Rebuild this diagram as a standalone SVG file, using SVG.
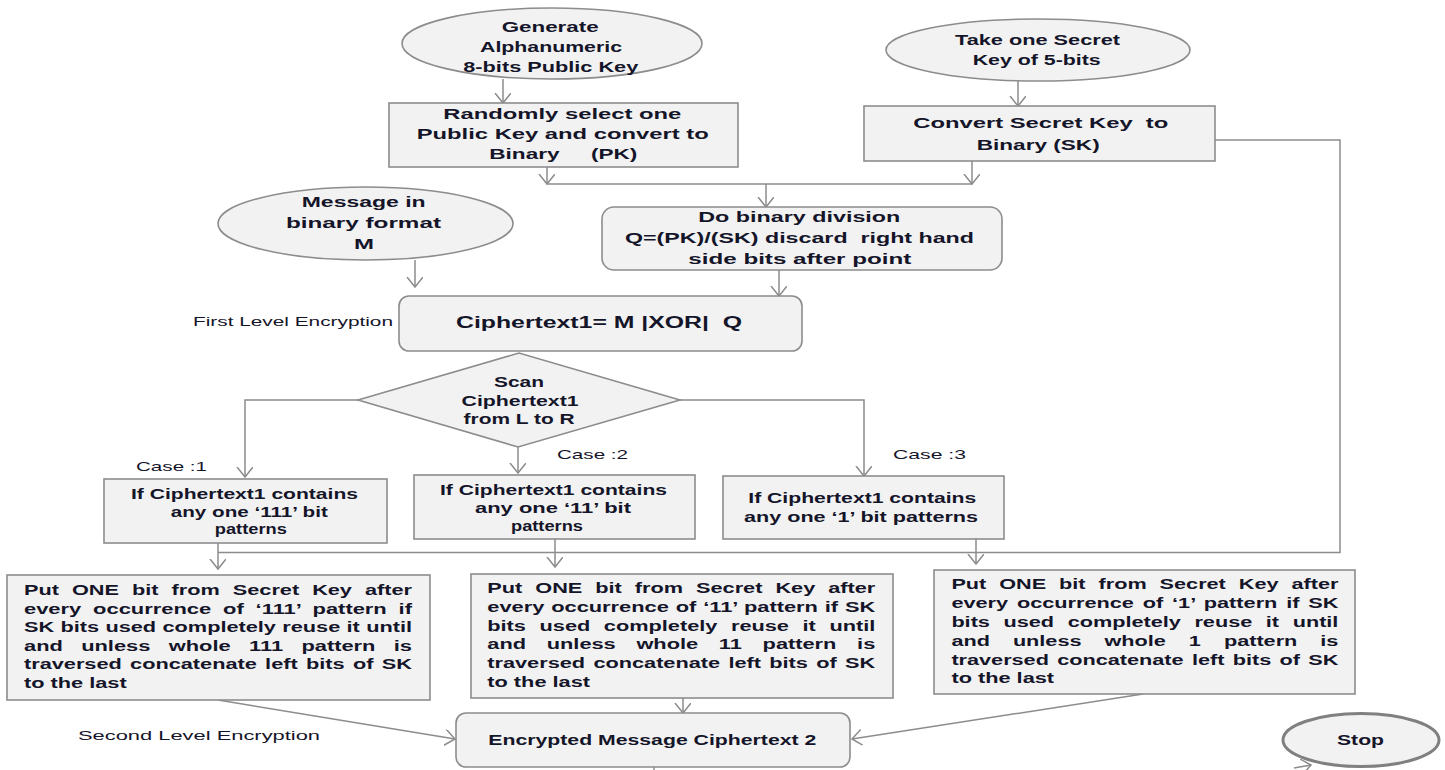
<svg xmlns="http://www.w3.org/2000/svg" width="1445" height="770" viewBox="0 0 1445 770">
<style>
.n{fill:#f2f2f2;stroke:#8c8c8c;stroke-width:1.6}
.c{fill:none;stroke:#8c8c8c;stroke-width:1.5}
.a{marker-end:url(#ah)}
text{font-family:"Liberation Sans",Arial,sans-serif;font-weight:bold;font-size:15px;fill:#15152a}
.p{font-size:14px}
.l{font-weight:normal;font-size:13px}
</style>
<defs>
<marker id="ah" markerUnits="userSpaceOnUse" markerWidth="12" markerHeight="18" refX="10" refY="8" orient="auto">
<path d="M0,0 L10,8 L0,16" fill="none" stroke="#8c8c8c" stroke-width="1.5"/>
</marker>
</defs>
<rect width="1445" height="770" fill="#ffffff"/>
<g id="connectors">
<path class="c a" d="M503,79 V103"/>
<path class="c a" d="M1018,81 V106"/>
<path class="c a" d="M547,167 V184"/>
<path class="c a" d="M972,161 V184"/>
<path class="c" d="M547,184 H972"/>
<path class="c a" d="M766,184 V207"/>
<path class="c a" d="M779,270 V296"/>
<path class="c a" d="M415,260 V287"/>
<path class="c a" d="M358,400 H245 V477"/>
<path class="c a" d="M518,447 V473"/>
<path class="c a" d="M680,400 H864 V476"/>
<path class="c" d="M1215,140 H1340 V552.5 H218"/>
<path class="c a" d="M218,543 V569"/>
<path class="c a" d="M555,539 V567"/>
<path class="c a" d="M976,539 V564"/>
<path class="c a" d="M218,700 L455,739"/>
<path class="c a" d="M683,698 V713"/>
<path class="c a" d="M1143,694 L852,739"/>
<path class="c" d="M654,767 V770"/>
<path class="c a" d="M1294,768 L1311,765"/>
</g>
<g id="gen-public-key">
<ellipse class="n" cx="552" cy="43.5" rx="150" ry="35.5"/>
<text x="501.7" y="32" textLength="97" lengthAdjust="spacingAndGlyphs">Generate</text>
<text x="480" y="52" textLength="142" lengthAdjust="spacingAndGlyphs">Alphanumeric</text>
<text x="463.3" y="72" textLength="175" lengthAdjust="spacingAndGlyphs">8-bits Public Key</text>
</g>
<g id="take-secret-key">
<ellipse class="n" cx="1038" cy="50" rx="152" ry="31"/>
<text x="955" y="45" textLength="165" lengthAdjust="spacingAndGlyphs">Take one Secret</text>
<text x="972.7" y="65" textLength="128" lengthAdjust="spacingAndGlyphs">Key of 5-bits</text>
</g>
<g id="select-public-key">
<rect class="n" x="389" y="103" width="349" height="64"/>
<text x="443.3" y="119" textLength="238" lengthAdjust="spacingAndGlyphs">Randomly select one</text>
<text x="416.7" y="139" textLength="292" lengthAdjust="spacingAndGlyphs">Public Key and convert to</text>
<text x="489.3" y="159" textLength="148" lengthAdjust="spacingAndGlyphs" xml:space="preserve">Binary     (PK)</text>
</g>
<g id="convert-secret-key">
<rect class="n" x="864" y="106" width="351" height="55"/>
<text x="913.3" y="128" textLength="255" lengthAdjust="spacingAndGlyphs" xml:space="preserve">Convert Secret Key  to</text>
<text x="976.7" y="150" textLength="123" lengthAdjust="spacingAndGlyphs">Binary (SK)</text>
</g>
<g id="message">
<ellipse class="n" cx="365.5" cy="223.5" rx="147.5" ry="36.5"/>
<text x="301.7" y="207" textLength="124" lengthAdjust="spacingAndGlyphs">Message in</text>
<text x="286" y="228" textLength="155" lengthAdjust="spacingAndGlyphs">binary format</text>
<text x="354" y="249" textLength="20" lengthAdjust="spacingAndGlyphs">M</text>
</g>
<g id="binary-division">
<rect class="n" x="602" y="207" width="400" height="63" rx="12"/>
<text x="698.3" y="222" textLength="202" lengthAdjust="spacingAndGlyphs">Do binary division</text>
<text x="625" y="243" textLength="349" lengthAdjust="spacingAndGlyphs" xml:space="preserve">Q=(PK)/(SK) discard  right hand</text>
<text x="688.3" y="264" textLength="223" lengthAdjust="spacingAndGlyphs">side bits after point</text>
</g>
<g id="ciphertext1">
<rect class="n" x="399" y="296" width="403" height="55" rx="10"/>
<text x="456" y="328" textLength="286" lengthAdjust="spacingAndGlyphs" style="font-size:16px" xml:space="preserve">Ciphertext1= M |XOR|  Q</text>
</g>
<g id="label-first-level">
<text class="l" x="193" y="326" textLength="200" lengthAdjust="spacingAndGlyphs">First Level Encryption</text>
</g>
<g id="scan">
<polygon class="n" points="358,400 519,353 680,400 518,447"/>
<text x="494" y="387" textLength="50" lengthAdjust="spacingAndGlyphs">Scan</text>
<text x="461.6" y="406" textLength="117" lengthAdjust="spacingAndGlyphs">Ciphertext1</text>
<text x="463.6" y="424" textLength="111" lengthAdjust="spacingAndGlyphs">from L to R</text>
</g>
<g id="case-labels">
<text class="l" x="136" y="471" textLength="71" lengthAdjust="spacingAndGlyphs">Case :1</text>
<text class="l" x="557" y="459" textLength="71" lengthAdjust="spacingAndGlyphs">Case :2</text>
<text class="l" x="893" y="459" textLength="73" lengthAdjust="spacingAndGlyphs">Case :3</text>
</g>
<g id="case1">
<rect class="n" x="104" y="479" width="283" height="64"/>
<text x="131" y="499" textLength="227" lengthAdjust="spacingAndGlyphs">If Ciphertext1 contains</text>
<text x="170.8" y="517" textLength="157" lengthAdjust="spacingAndGlyphs">any one ‘111’ bit</text>
<text x="214.8" y="534" textLength="72" lengthAdjust="spacingAndGlyphs">patterns</text>
</g>
<g id="case2">
<rect class="n" x="414" y="475" width="281" height="64"/>
<text x="440" y="495" textLength="227" lengthAdjust="spacingAndGlyphs">If Ciphertext1 contains</text>
<text x="475" y="513" textLength="156" lengthAdjust="spacingAndGlyphs">any one ‘11’ bit</text>
<text x="511" y="531" textLength="72" lengthAdjust="spacingAndGlyphs">patterns</text>
</g>
<g id="case3">
<rect class="n" x="723" y="476" width="281" height="63"/>
<text x="748.3" y="503" textLength="228" lengthAdjust="spacingAndGlyphs">If Ciphertext1 contains</text>
<text x="744" y="522" textLength="234" lengthAdjust="spacingAndGlyphs">any one ‘1’ bit patterns</text>
</g>
<g id="rule-111">
<rect class="n" x="7" y="575" width="423" height="125"/>
<text class="p" x="24" y="595" textLength="388" lengthAdjust="spacingAndGlyphs" word-spacing="4.5">Put ONE bit from Secret Key after</text>
<text class="p" x="24" y="613.5" textLength="388" lengthAdjust="spacingAndGlyphs" word-spacing="3.7">every occurrence of ‘111’ pattern if</text>
<text class="p" x="24" y="632" textLength="388" lengthAdjust="spacingAndGlyphs" word-spacing="0.2">SK bits used completely reuse it until</text>
<text class="p" x="24" y="650.5" textLength="388" lengthAdjust="spacingAndGlyphs" word-spacing="7.9">and unless whole 111 pattern is</text>
<text class="p" x="24" y="669" textLength="388" lengthAdjust="spacingAndGlyphs" word-spacing="1.5">traversed concatenate left bits of SK</text>
<text class="p" x="24" y="687.5" textLength="102.7" lengthAdjust="spacingAndGlyphs">to the last</text>
</g>
<g id="rule-11">
<rect class="n" x="471" y="574" width="422" height="124"/>
<text class="p" x="487.3" y="593.3" textLength="388" lengthAdjust="spacingAndGlyphs" word-spacing="4.5">Put ONE bit from Secret Key after</text>
<text class="p" x="487.3" y="611.7" textLength="388" lengthAdjust="spacingAndGlyphs" word-spacing="0.5">every occurrence of ‘11’ pattern if SK</text>
<text class="p" x="487.3" y="630.5" textLength="388" lengthAdjust="spacingAndGlyphs" word-spacing="4.9">bits used completely reuse it until</text>
<text class="p" x="487.3" y="649.2" textLength="388" lengthAdjust="spacingAndGlyphs" word-spacing="9.45">and unless whole 11 pattern is</text>
<text class="p" x="487.3" y="668" textLength="388" lengthAdjust="spacingAndGlyphs" word-spacing="1.5">traversed concatenate left bits of SK</text>
<text class="p" x="487.3" y="686.7" textLength="102.7" lengthAdjust="spacingAndGlyphs">to the last</text>
</g>
<g id="rule-1">
<rect class="n" x="934" y="570" width="421" height="124"/>
<text class="p" x="951.4" y="589.3" textLength="387" lengthAdjust="spacingAndGlyphs" word-spacing="4.5">Put ONE bit from Secret Key after</text>
<text class="p" x="951.4" y="608" textLength="387" lengthAdjust="spacingAndGlyphs" word-spacing="1.8">every occurrence of ‘1’ pattern if SK</text>
<text class="p" x="951.4" y="627" textLength="387" lengthAdjust="spacingAndGlyphs" word-spacing="4.9">bits used completely reuse it until</text>
<text class="p" x="951.4" y="645.8" textLength="387" lengthAdjust="spacingAndGlyphs" word-spacing="11">and unless whole 1 pattern is</text>
<text class="p" x="951.4" y="664.5" textLength="387" lengthAdjust="spacingAndGlyphs" word-spacing="1.5">traversed concatenate left bits of SK</text>
<text class="p" x="951.4" y="683" textLength="102.7" lengthAdjust="spacingAndGlyphs">to the last</text>
</g>
<g id="label-second-level">
<text class="l" x="78" y="740" textLength="242" lengthAdjust="spacingAndGlyphs">Second Level Encryption</text>
</g>
<g id="ciphertext2">
<rect class="n" x="456" y="713" width="394" height="54" rx="10"/>
<text x="488.3" y="745" textLength="328" lengthAdjust="spacingAndGlyphs">Encrypted Message Ciphertext 2</text>
</g>
<g id="stop">
<ellipse cx="1361" cy="740" rx="78" ry="26.5" fill="#f2f2f2" stroke="#808080" stroke-width="3"/>
<text x="1337" y="745" textLength="47" lengthAdjust="spacingAndGlyphs">Stop</text>
</g>
</svg>
